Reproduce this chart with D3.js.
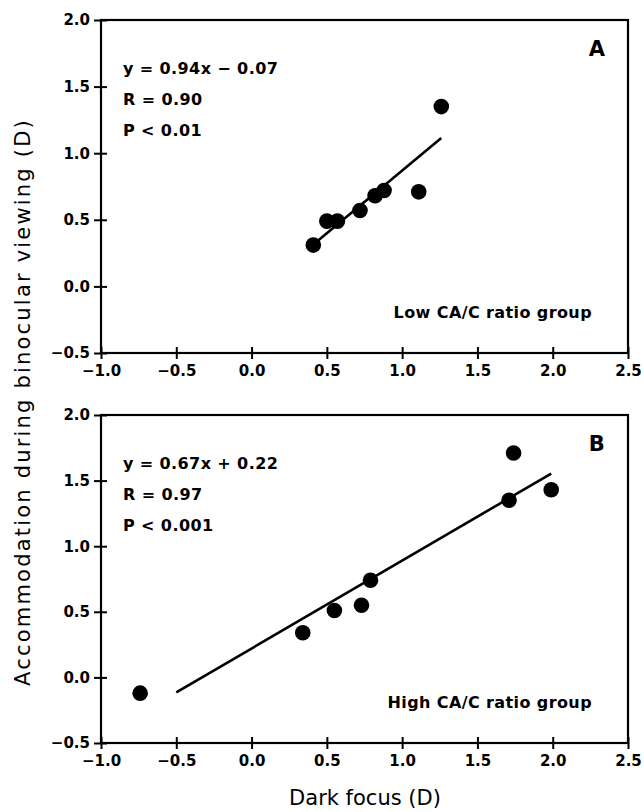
<!DOCTYPE html>
<html>
<head>
<meta charset="utf-8">
<script src="https://cdn.jsdelivr.net/npm/d3@7"></script>
<style>
    body { margin: 0; background: #fff; }
    svg { display: block; }
    .tick-label { font-family: "DejaVu Sans", sans-serif; font-weight: bold; font-size: 15px; }
    .note { font-family: "DejaVu Sans", sans-serif; font-weight: bold; font-size: 16px; letter-spacing: 0.4px; }
    .axis-title { font-family: "DejaVu Sans", sans-serif; font-size: 21px; }
</style>
</head>
<body>
<div id="chart"></div>
<script>
// panel A : low CA/C ratio group
let darkFocusA = [0.41, 0.50, 0.57, 0.72, 0.82, 0.88, 1.11, 1.26];
let accomA = [0.31, 0.49, 0.49, 0.57, 0.68, 0.72, 0.71, 1.35];
let fitA = [0.94, -0.07];          // slope, intercept
let fitRangeA = [0.42, 1.26];
let notesA = ["y = 0.94x \u2212 0.07", "R = 0.90", "P < 0.01"];

// panel B : high CA/C ratio group
let darkFocusB = [-0.74, 0.34, 0.55, 0.73, 0.79, 1.71, 1.74, 1.99];
let accomB = [-0.12, 0.34, 0.51, 0.55, 0.74, 1.35, 1.71, 1.43];
let fitB = [0.67, 0.22];
let fitRangeB = [-0.5, 1.99];
let notesB = ["y = 0.67x + 0.22", "R = 0.97", "P < 0.001"];

// axes
let xTicks = [-1.0, -0.5, 0.0, 0.5, 1.0, 1.5, 2.0, 2.5];
let yTicks = [-0.5, 0.0, 0.5, 1.0, 1.5, 2.0];

let width = 644, height = 812;

let svg = d3.select("#chart").append("svg")
    .attr("width", width)
    .attr("height", height);

// minus sign like the print
let fmt = d => d3.format(".1f")(d).replace("-", "\u2212");

class ScatterPanel {

    constructor(top, bottom, xs, ys, fit, fitRange, notes, letter, group) {
        this.top = top;
        this.bottom = bottom;
        this.xs = xs;
        this.ys = ys;
        this.fit = fit;
        this.fitRange = fitRange;
        this.notes = notes;
        this.letter = letter;
        this.group = group;

        this.initVis();
    }

    initVis() {
        let vis = this;

        vis.left = 101;
        vis.right = 628;

        vis.x = d3.scaleLinear().domain([-1, 2.5]).range([vis.left, vis.right]);
        vis.y = d3.scaleLinear().domain([-0.5, 2.0]).range([vis.bottom, vis.top]);

        vis.g = svg.append("g");

        // frame
        vis.g.append("rect")
            .attr("x", vis.left)
            .attr("y", vis.top)
            .attr("width", vis.right - vis.left)
            .attr("height", vis.bottom - vis.top)
            .attr("fill", "none")
            .attr("stroke", "#000")
            .attr("stroke-width", 2.2);

        // left axis, ticks cross the line
        let yAxis = d3.axisLeft(vis.y)
            .tickValues(yTicks)
            .tickSizeInner(7)
            .tickSizeOuter(0)
            .tickPadding(4)
            .tickFormat(fmt);

        let ya = vis.g.append("g")
            .attr("transform", `translate(${vis.left}, 0)`)
            .call(yAxis);
        ya.select(".domain").remove();
        ya.selectAll(".tick line")
            .attr("x1", 6)
            .attr("stroke-width", 2);
        ya.selectAll(".tick text")
            .attr("class", "tick-label")
            .attr("fill", "#000");

        // bottom axis
        let xAxis = d3.axisBottom(vis.x)
            .tickValues(xTicks)
            .tickSizeInner(6)
            .tickSizeOuter(0)
            .tickPadding(6)
            .tickFormat(fmt);

        let xa = vis.g.append("g")
            .attr("transform", `translate(0, ${vis.bottom})`)
            .call(xAxis);
        xa.select(".domain").remove();
        xa.selectAll(".tick line")
            .attr("y1", -6)
            .attr("stroke-width", 2);
        xa.selectAll(".tick text")
            .attr("class", "tick-label")
            .attr("fill", "#000");

        vis.updateVis();
    }

    updateVis() {
        let vis = this;

        // regression line
        let line = d3.line()
            .x(d => vis.x(d))
            .y(d => vis.y(vis.fit[0] * d + vis.fit[1]));

        vis.g.append("path")
            .datum(vis.fitRange)
            .attr("d", line)
            .attr("fill", "none")
            .attr("stroke", "#000")
            .attr("stroke-width", 2.6);

        // points
        vis.g.selectAll(".dot")
            .data(vis.xs.map((d, i) => ({x: d, y: vis.ys[i]})))
            .enter()
            .append("circle")
            .attr("class", "dot")
            .attr("cx", d => vis.x(d.x))
            .attr("cy", d => vis.y(d.y))
            .attr("r", 7.8)
            .attr("fill", "#000");

        // equation notes
        vis.g.selectAll(".note-line")
            .data(vis.notes)
            .enter()
            .append("text")
            .attr("class", "note")
            .attr("x", vis.left + 22)
            .attr("y", (d, i) => vis.top + 54 + i * 31)
            .text(d => d);

        // panel letter
        vis.g.append("text")
            .attr("class", "note")
            .attr("x", vis.right - 31)
            .attr("y", vis.top + 36)
            .attr("text-anchor", "middle")
            .style("font-size", "21px")
            .text(vis.letter);

        // group name
        vis.g.append("text")
            .attr("class", "note")
            .attr("x", vis.right - 36)
            .attr("y", vis.bottom - 35)
            .attr("text-anchor", "end")
            .text(vis.group);
    }
}

let panelA = new ScatterPanel(20, 353, darkFocusA, accomA, fitA, fitRangeA, notesA, "A", "Low CA/C ratio group");
let panelB = new ScatterPanel(415, 743, darkFocusB, accomB, fitB, fitRangeB, notesB, "B", "High CA/C ratio group");

// axis titles
svg.append("text")
    .attr("class", "axis-title")
    .attr("x", 365)
    .attr("y", 805)
    .attr("text-anchor", "middle")
    .text("Dark focus (D)");

svg.append("text")
    .attr("class", "axis-title")
    .attr("transform", "translate(30, 402) rotate(-90)")
    .attr("text-anchor", "middle")
    .style("letter-spacing", "2.2px")
    .text("Accommodation during binocular viewing (D)");
</script>
</body>
</html>
